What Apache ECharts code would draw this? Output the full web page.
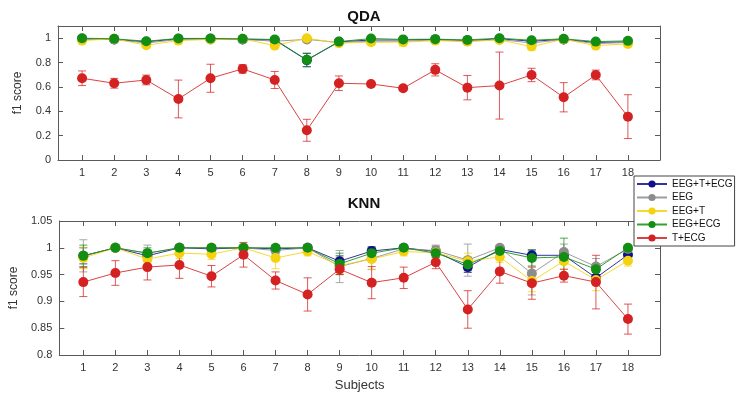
<!DOCTYPE html>
<html>
<head>
<meta charset="utf-8">
<script src="https://cdn.jsdelivr.net/npm/echarts@6/dist/echarts.min.js"></script>
<style>
  html, body { margin: 0; padding: 0; background: #fff; }
  #main { width: 738px; height: 400px; }
</style>
</head>
<body>
<div id="main"></div>
<script>
// subjects on the x axis
var subjects = [1, 2, 3, 4, 5, 6, 7, 8, 9, 10, 11, 12, 13, 14, 15, 16, 17, 18];
var seriesNames = ['EEG+T+ECG', 'EEG', 'EEG+T', 'EEG+ECG', 'T+ECG'];
var seriesColors = ['#10108c', '#8c8c8c', '#f5d20f', '#128f12', '#d42222'];

// QDA f1 scores (mean)
var qdaEEG_T_ECG = [0.995, 0.99, 0.97, 0.995, 0.995, 0.99, 0.985, 0.82, 0.97, 0.985, 0.985, 0.99, 0.98, 0.995, 0.975, 0.99, 0.965, 0.97];
var qdaEEG = [0.99, 0.99, 0.96, 0.99, 0.99, 0.99, 0.975, 0.99, 0.965, 0.975, 0.975, 0.985, 0.975, 0.99, 0.96, 0.99, 0.955, 0.965];
var qdaEEG_T = [0.98, 0.995, 0.942, 0.98, 0.99, 0.995, 0.939, 1.0, 0.959, 0.967, 0.967, 0.98, 0.972, 0.986, 0.931, 0.992, 0.939, 0.953];
var qdaEEG_ECG = [1.0, 0.995, 0.975, 0.998, 0.998, 0.995, 0.989, 0.822, 0.972, 0.997, 0.99, 0.992, 0.986, 1.0, 0.983, 0.995, 0.972, 0.978];
var qdaT_ECG = [0.671, 0.630, 0.657, 0.501, 0.671, 0.748, 0.657, 0.244, 0.630, 0.624, 0.589, 0.740, 0.594, 0.611, 0.698, 0.515, 0.698, 0.356];
// QDA error (half-length of bars)
var qdaErrEEG_T_ECG = [0.01, 0.005, 0.01, 0.005, 0.005, 0.005, 0.01, 0.055, 0.01, 0.01, 0.01, 0.008, 0.01, 0.005, 0.01, 0.005, 0.015, 0.01];
var qdaErrEEG = [0.01, 0.005, 0.015, 0.008, 0.008, 0.005, 0.015, 0.005, 0.01, 0.02, 0.02, 0.01, 0.015, 0.008, 0.02, 0.008, 0.02, 0.015];
var qdaErrEEG_T = [0.01, 0.005, 0.015, 0.01, 0.008, 0.005, 0.015, 0.005, 0.01, 0.02, 0.03, 0.01, 0.015, 0.01, 0.03, 0.008, 0.015, 0.015];
var qdaErrEEG_ECG = [0.01, 0.005, 0.01, 0.005, 0.005, 0.005, 0.01, 0.055, 0.01, 0.01, 0.01, 0.008, 0.01, 0.005, 0.01, 0.005, 0.015, 0.01];
var qdaErrT_ECG = [0.06, 0.04, 0.04, 0.155, 0.115, 0.035, 0.07, 0.09, 0.06, 0.02, 0.015, 0.05, 0.1, 0.275, 0.055, 0.12, 0.04, 0.18];

// KNN f1 scores (mean)
var knnEEG_T_ECG = [0.985, 1.0, 0.985, 1.0, 0.998, 1.0, 0.998, 1.0, 0.975, 0.994, 1.0, 0.993, 0.964, 0.997, 0.986, 0.986, 0.944, 0.987];
var knnEEG = [0.985, 1.0, 0.99, 1.0, 1.0, 1.0, 0.995, 1.0, 0.965, 0.98, 0.998, 0.995, 0.977, 1.0, 0.952, 0.992, 0.965, 0.998];
var knnEEG_T = [0.981, 1.0, 0.979, 0.99, 0.988, 1.0, 0.981, 0.993, 0.967, 0.979, 0.993, 0.991, 0.975, 0.983, 0.938, 0.975, 0.94, 0.976];
var knnEEG_ECG = [0.985, 1.0, 0.99, 1.0, 1.0, 1.0, 1.0, 1.0, 0.97, 0.99, 1.0, 0.99, 0.969, 0.994, 0.981, 0.983, 0.96, 1.0];
var knnT_ECG = [0.936, 0.953, 0.964, 0.968, 0.947, 0.987, 0.939, 0.913, 0.96, 0.935, 0.944, 0.973, 0.885, 0.956, 0.934, 0.948, 0.936, 0.867];
// KNN error
var knnErrEEG_T_ECG = [0.015, 0.002, 0.01, 0.003, 0.004, 0.002, 0.005, 0.003, 0.01, 0.008, 0.003, 0.01, 0.01, 0.004, 0.01, 0.01, 0.01, 0.006];
var knnErrEEG = [0.03, 0.002, 0.015, 0.003, 0.004, 0.002, 0.008, 0.003, 0.03, 0.02, 0.005, 0.01, 0.03, 0.004, 0.04, 0.015, 0.015, 0.004];
var knnErrEEG_T = [0.02, 0.002, 0.01, 0.01, 0.01, 0.002, 0.02, 0.008, 0.015, 0.02, 0.008, 0.01, 0.015, 0.01, 0.02, 0.015, 0.02, 0.01];
var knnErrEEG_ECG = [0.02, 0.002, 0.01, 0.003, 0.004, 0.002, 0.005, 0.003, 0.02, 0.01, 0.003, 0.008, 0.012, 0.004, 0.015, 0.035, 0.01, 0.004];
var knnErrT_ECG = [0.027, 0.023, 0.024, 0.025, 0.02, 0.023, 0.016, 0.031, 0.01, 0.03, 0.02, 0.012, 0.035, 0.022, 0.03, 0.012, 0.05, 0.028];

// tick labels
var qdaTicks = [0, 0.2, 0.4, 0.6, 0.8, 1];
var knnTicks = [0.8, 0.85, 0.9, 0.95, 1, 1.05];

var qdaMeans = [qdaEEG_T_ECG, qdaEEG, qdaEEG_T, qdaEEG_ECG, qdaT_ECG];
var qdaErrs = [qdaErrEEG_T_ECG, qdaErrEEG, qdaErrEEG_T, qdaErrEEG_ECG, qdaErrT_ECG];
var knnMeans = [knnEEG_T_ECG, knnEEG, knnEEG_T, knnEEG_ECG, knnT_ECG];
var knnErrs = [knnErrEEG_T_ECG, knnErrEEG, knnErrEEG_T, knnErrEEG_ECG, knnErrT_ECG];

var FONT = 'Liberation Sans';
var AXIS_COLOR = '#5a5a5a';

function xAx(grid, pos, showLabel, name) {
  return {
    type: 'value', gridIndex: grid, position: pos, min: 0.25, max: 19,
    name: name || '', nameLocation: 'middle', nameGap: 24,
    nameTextStyle: { fontFamily: FONT, fontSize: 13, color: '#333' },
    axisLine: { show: true, onZero: false, lineStyle: { color: AXIS_COLOR } },
    axisTick: { show: true, inside: true, length: 5, customValues: subjects, lineStyle: { color: AXIS_COLOR } },
    axisLabel: { show: showLabel, customValues: subjects, fontFamily: FONT, fontSize: 11, color: '#333', margin: 7 },
    splitLine: { show: false }
  };
}
function yAx(grid, pos, min, max, ticks, showLabel) {
  return {
    type: 'value', gridIndex: grid, position: pos, min: min, max: max,
    name: showLabel ? 'f1 score' : '', nameLocation: 'middle', nameGap: 34,
    nameTextStyle: { fontFamily: FONT, fontSize: 12, color: '#333' },
    axisLine: { show: true, onZero: false, lineStyle: { color: AXIS_COLOR } },
    axisTick: { show: true, inside: true, length: 5, customValues: ticks, lineStyle: { color: AXIS_COLOR } },
    axisLabel: { show: showLabel, customValues: ticks, fontFamily: FONT, fontSize: 11, color: '#333', margin: 7 },
    splitLine: { show: false }
  };
}

function errorSeries(means, errs, color, axisIdx) {
  var data = subjects.map(function (s, i) { return [s, means[i] - errs[i], means[i] + errs[i]]; });
  return {
    type: 'custom', name: 'err', xAxisIndex: axisIdx, yAxisIndex: axisIdx,
    silent: true, z: 1,
    encode: { x: 0, y: [1, 2] },
    renderItem: function (params, api) {
      var lo = api.coord([api.value(0), api.value(1)]);
      var hi = api.coord([api.value(0), api.value(2)]);
      var w = 4;
      var style = { stroke: color, lineWidth: 1, opacity: 0.75 };
      return {
        type: 'group',
        children: [
          { type: 'line', shape: { x1: lo[0], y1: lo[1], x2: hi[0], y2: hi[1] }, style: style },
          { type: 'line', shape: { x1: lo[0] - w, y1: lo[1], x2: lo[0] + w, y2: lo[1] }, style: style },
          { type: 'line', shape: { x1: hi[0] - w, y1: hi[1], x2: hi[0] + w, y2: hi[1] }, style: style }
        ]
      };
    },
    data: data
  };
}

function lineSeries(name, means, color, axisIdx, z) {
  return {
    type: 'line', name: name, xAxisIndex: axisIdx, yAxisIndex: axisIdx,
    symbol: 'circle', symbolSize: 10, z: z,
    itemStyle: { color: color },
    lineStyle: { color: color, width: 1, opacity: 0.85 },
    emphasis: { disabled: true },
    data: subjects.map(function (s, i) { return [s, means[i]]; })
  };
}

var series = [];
seriesNames.forEach(function (n, k) {
  series.push(errorSeries(qdaMeans[k], qdaErrs[k], seriesColors[k], 0));
  series.push(errorSeries(knnMeans[k], knnErrs[k], seriesColors[k], 2));
});
seriesNames.forEach(function (n, k) {
  series.push(lineSeries(n, qdaMeans[k], seriesColors[k], 0, 2 + k));
  series.push(lineSeries(n, knnMeans[k], seriesColors[k], 2, 2 + k));
});

var chart = echarts.init(document.getElementById('main'));
chart.setOption({
  backgroundColor: '#fff',
  animation: false,
  title: [
    { text: 'QDA', left: 359, top: 4, textAlign: 'center', textStyle: { fontFamily: FONT, fontSize: 15, fontWeight: 'bold', color: '#111' } },
    { text: 'KNN', left: 359, top: 191, textAlign: 'center', textStyle: { fontFamily: FONT, fontSize: 15, fontWeight: 'bold', color: '#111' } }
  ],
  grid: [
    { left: 58, top: 26, width: 602, height: 134 },
    { left: 58, top: 221, width: 602, height: 134 }
  ],
  xAxis: [
    xAx(0, 'bottom', true),
    xAx(0, 'top', false),
    xAx(1, 'bottom', true, 'Subjects'),
    xAx(1, 'top', false)
  ],
  yAxis: [
    yAx(0, 'left', 0, 1.1, qdaTicks, true),
    yAx(0, 'right', 0, 1.1, qdaTicks, false),
    yAx(1, 'left', 0.8, 1.05, knnTicks, true),
    yAx(1, 'right', 0.8, 1.05, knnTicks, false)
  ],
  legend: {
    data: seriesNames,
    orient: 'vertical', left: 634, top: 176,
    backgroundColor: '#fff', borderColor: '#444', borderWidth: 1,
    padding: [3, 2, 3, 2], itemGap: 3.5, itemWidth: 30, itemHeight: 9,
    textStyle: { fontFamily: FONT, fontSize: 10, color: '#111' },
    selectedMode: false
  },
  series: series
});
</script>
</body>
</html>
